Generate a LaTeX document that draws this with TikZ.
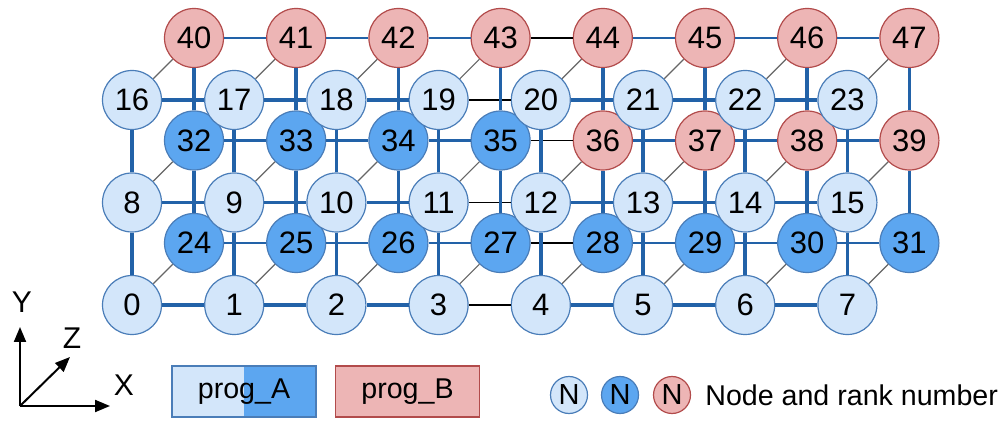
\documentclass[tikz,border=0pt]{standalone}
\usepackage{fontspec}
\setmainfont{Liberation Sans}
\usetikzlibrary{arrows.meta,positioning}
\definecolor{lightnode}{HTML}{D3E6FA}
\definecolor{darknode}{HTML}{5CA6F0}
\definecolor{pinknode}{HTML}{EDB5B5}
\definecolor{blueline}{HTML}{2262A8}
\definecolor{blueedge}{HTML}{4A7DB8}
\definecolor{rededge}{HTML}{B24B4B}
\tikzset{
  rank/.style={circle, minimum size=29.5pt, inner sep=0pt, line width=0.6pt,
    font=\fontsize{15.5}{17}\selectfont},
  rankA/.style={rank, draw=blueedge, fill=lightnode},
  rankAd/.style={rank, draw=blueedge, fill=darknode},
  rankB/.style={rank, draw=rededge, fill=pinknode},
  link/.style={blueline, line width=1.8pt},
  backlink/.style={blueline, line width=1.3pt},
  toplink/.style={blueline, line width=1pt},
  cutlink/.style={black, line width=0.8pt},
  zlink/.style={black!60, line width=0.6pt},
  axis/.style={black, line width=1pt, -{Triangle[length=7.5pt,width=6pt]}},
  legN/.style={circle, minimum size=18.5pt, inner sep=0pt, line width=0.6pt,
    font=\fontsize{14.5}{16}\selectfont},
  progbox/.style={minimum width=72pt, minimum height=25.5pt, line width=0.6pt,
    font=\fontsize{14.3}{16}\selectfont}
}
\begin{document}
\begin{tikzpicture}[x=0.5pt, y=-0.5pt]
  \useasboundingbox (0,0) rectangle (1004,421);
  % back layer (z=1)
  \foreach \r in {0,1,2}
    \foreach \c in {0,...,7}{
      \pgfmathtruncatemacro\bk{24+8*\r+\c}
      \ifnum\bk>35 \def\bsty{rankB}\else\def\bsty{rankAd}\fi
      \node[\bsty] (n\bk) at ({194+102.2*\c},{243-102.5*\r}) {\bk};
    }
  % front layer (z=0)
  \foreach \r in {0,1,2}
    \foreach \c in {0,...,7}{
      \pgfmathtruncatemacro\fr{8*\r+\c}
      \node[rankA] (n\fr) at ({132+102.2*\c},{305-102.5*\r}) {\fr};
    }
  % links along X
  \foreach \r in {0,1,2}
    \foreach \c in {0,...,6}{
      \pgfmathtruncatemacro\a{8*\r+\c}
      \pgfmathtruncatemacro\b{\a+1}
      \pgfmathtruncatemacro\p{\a+24}
      \pgfmathtruncatemacro\q{\a+25}
      \ifnum\c=3 \def\lsty{cutlink}\def\bsty{cutlink}\else
        \def\lsty{link}
        \ifnum\r=2 \def\bsty{toplink}\else\def\bsty{backlink}\fi
      \fi
      \draw[\lsty] (n\a) -- (n\b);
      \draw[\bsty] (n\p) -- (n\q);
    }
  % links along Y
  \foreach \r in {0,1}
    \foreach \c in {0,...,7}{
      \pgfmathtruncatemacro\a{8*\r+\c}
      \pgfmathtruncatemacro\b{\a+8}
      \pgfmathtruncatemacro\p{\a+24}
      \pgfmathtruncatemacro\q{\a+32}
      \draw[link] (n\a) -- (n\b);
      \draw[link] (n\p) -- (n\q);
    }
  % links along Z
  \foreach \a in {0,...,23}{
    \pgfmathtruncatemacro\p{\a+24}
    \draw[zlink] (n\a) -- (n\p);
  }
  % axes
  \coordinate (orig) at (20,406);
  \coordinate (ytip) at (20,327);
  \coordinate (xtip) at (110,406);
  \coordinate (ztip) at (70,357);
  \draw[axis] (orig) -- (ytip);
  \draw[axis] (orig) -- (xtip);
  \draw[axis] (orig) -- (ztip);
  \node[font=\fontsize{15}{16}\selectfont] (ylab) at (22,302) {Y};
  \node[font=\fontsize{15}{16}\selectfont] (zlab) at (72,338) {Z};
  \node[font=\fontsize{15}{16}\selectfont] (xlab) at (124,385) {X};
  % legend
  \node[progbox, draw=blueedge, fill=darknode,
    path picture={\fill[lightnode] (path picture bounding box.south west)
      rectangle (path picture bounding box.north);}] (progA) at (244,391.5) {prog\_A};
  \node[progbox, draw=rededge, fill=pinknode] (progB) at (407.5,391.5) {prog\_B};
  \node[legN, draw=blueedge, fill=lightnode] (legA) at (569,395) {N};
  \node[legN, draw=blueedge, fill=darknode] (legAd) at (620,395) {N};
  \node[legN, draw=rededge, fill=pinknode] (legB) at (672,395) {N};
  \node[anchor=west, inner sep=0pt, font=\fontsize{14.3}{16}\selectfont] (legtxt) at (705,395) {Node and rank number};
\end{tikzpicture}
\end{document}
